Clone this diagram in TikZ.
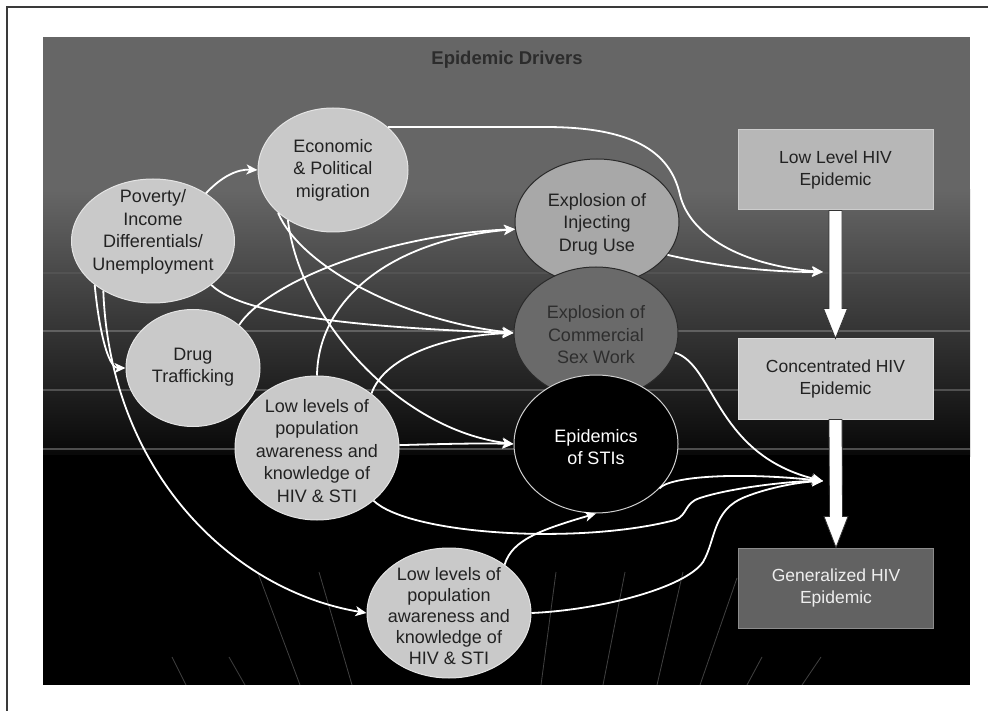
\documentclass[tikz,border=0pt]{standalone}
\usepackage{fontspec}
\setmainfont{Liberation Sans}
\usetikzlibrary{shapes.geometric, arrows.meta, calc}
\definecolor{bgtop}{HTML}{666666}
\definecolor{bgdark}{HTML}{080808}
\definecolor{nodegray}{HTML}{C9C9C9}
\definecolor{nodeedge}{HTML}{E4E4E4}
\definecolor{txtdark}{HTML}{222222}
\definecolor{iducol}{HTML}{A8A8A8}
\definecolor{cswcol}{HTML}{6A6A6A}
\definecolor{cswtext}{HTML}{2E2E2E}
\definecolor{darkedge}{HTML}{2A2A2A}
\definecolor{stiedge}{HTML}{D0D0D0}
\definecolor{lowcol}{HTML}{B7B7B7}
\definecolor{lowedge}{HTML}{CDCDCD}
\definecolor{conccol}{HTML}{C9C9C9}
\definecolor{concedge}{HTML}{DDDDDD}
\definecolor{gencol}{HTML}{626262}
\definecolor{genedge}{HTML}{8C8C8C}
\definecolor{gentext}{HTML}{EEEEEE}
\definecolor{titlec}{HTML}{2C2C2C}
\definecolor{framec}{HTML}{3A3A3A}
\begin{document}
\begin{tikzpicture}[x=1pt,y=-1pt,
  ell/.style={ellipse, inner sep=0pt},
  lite/.style={ell, fill=nodegray, draw=nodeedge, line width=1pt},
  txt/.style={font=\fontsize{18}{22.5}\selectfont, align=center, inner sep=0pt, text=txtdark},
  boxnode/.style={rectangle, inner sep=0pt, minimum width=195pt, minimum height=80pt, line width=1pt,
                  align=center, font=\fontsize{17.5}{21.5}\selectfont},
  conn/.style={draw=white, line width=1.8pt, -{Stealth[length=11pt,width=10pt,inset=3pt]}},
  bigarr/.style={fill=white, draw=black!80, line width=0.8pt, line join=miter},
  deco/.style={draw=white, line width=0.8pt, opacity=0.25},
  hline/.style={draw=white, line width=1.6pt, opacity=0.22},
]
\useasboundingbox (0,0) rectangle (988,711);
\fill[white] (0,0) rectangle (988,711);
% frame
\draw[framec, line width=2.2pt] (7,711) -- (7,7) -- (988,7);
% panel background
\fill[bgtop] (43,37) rectangle (970,191);
\shade[top color=bgtop, bottom color=bgdark] (43,190) rectangle (970,456);
\fill[black] (43,455) rectangle (970,685);
% faint horizontal lines
\draw[hline, opacity=0.06] (43,273) -- (970,273);
\draw[hline] (43,331) -- (970,331);
\draw[hline] (43,390) -- (970,390);
\draw[hline, opacity=0.28] (43,449) -- (970,449);
% faint diagonal lines
\foreach \a/\b/\c/\d in {172/657/186/685, 229/657/245/685, 258/573/300/685, 319/572/352/685,
  556/572/541/685, 625/572/603/685, 683/572/657/685, 737/578/700/685, 762/657/747/685, 821/657/802/685}
  \draw[deco] (\a,\b) -- (\c,\d);
% title
\node[font=\bfseries\fontsize{18.5}{21}\selectfont, text=titlec] (title) at (507,60) {Epidemic Drivers};
% left ellipses
\node[lite, minimum width=163pt, minimum height=124pt] (pov) at (153,241) {};
\node[lite, minimum width=150pt, minimum height=124pt] (eco) at (333,170) {};
\node[lite, minimum width=134pt, minimum height=117pt] (dt) at (193,368) {};
\node[lite, minimum width=164pt, minimum height=144pt] (ll1) at (317,448) {};
\node[lite, minimum width=164pt, minimum height=130pt] (ll2) at (449,613) {};
% middle ellipses
\node[ell, fill=iducol, draw=darkedge, line width=1pt, minimum width=164pt, minimum height=126pt] (idu) at (597,222) {};
\node[ell, fill=cswcol, draw=darkedge, line width=1pt, minimum width=164pt, minimum height=132pt] (csw) at (596,333) {};
\node[ell, fill=black, draw=stiedge, line width=1pt, minimum width=164pt, minimum height=138pt] (sti) at (596,444) {};
% boxes
\node[boxnode, fill=lowcol, draw=lowedge, text=txtdark] (low) at (835.5,170) {Low Level HIV\\Epidemic};
\node[boxnode, fill=conccol, draw=concedge, text=txtdark] (conc) at (835.5,379) {Concentrated HIV\\Epidemic};
\node[boxnode, fill=gencol, draw=genedge, text=gentext] (gen) at (836,588) {Generalized HIV\\Epidemic};
% big arrows
\draw[bigarr] ($(low.south)+(-6.5,0)$) -- ($(conc.north)+(-6.5,-30)$) -- ($(conc.north)+(-12,-30)$)
  -- (conc.north) -- ($(conc.north)+(12,-30)$) -- ($(conc.north)+(6.5,-30)$) -- ($(low.south)+(6.5,0)$) -- cycle;
\draw[bigarr] ($(conc.south)+(-6.5,0)$) -- ($(gen.north)+(-6.5,-31)$) -- ($(gen.north)+(-12,-31)$)
  -- (gen.north) -- ($(gen.north)+(12,-31)$) -- ($(gen.north)+(6.5,-31)$) -- ($(conc.south)+(6.5,0)$) -- cycle;
% convergence points
\coordinate (cLow) at (823,272);
\coordinate (cGen) at (823,481);
% connectors
\draw[conn] (pov.42) .. controls (222,176) and (238,169) .. (eco.west);
\draw[conn] (pov.217) .. controls (99,330) and (108,368) .. (dt.west);
\draw[conn] (pov.225) .. controls (110,470) and (230,590) .. (ll2.west);
\draw[conn] (pov.323) .. controls (245,318) and (380,328) .. (csw.west);
\draw[conn] (eco.38) -- (545,127) .. controls (630,127) and (670,150) .. (680,195)
  .. controls (690,235) and (740,265) .. (cLow);
\draw[conn] (idu.335) .. controls (720,267) and (770,272) .. (cLow);
\draw[conn] (eco.218) .. controls (300,265) and (400,320) .. (csw.west);
\draw[conn] (eco.228) .. controls (300,320) and (400,430) .. (sti.west);
\draw[conn] (dt.43) .. controls (265,285) and (380,235) .. (idu.185);
\draw[conn] (ll1.north) .. controls (318,300) and (390,240) .. (idu.185);
\draw[conn] (ll1.45) .. controls (385,355) and (450,335) .. (csw.west);
\draw[conn] (ll1.2) .. controls (440,444) and (480,443) .. (sti.west);
\draw[conn] (ll1.317) .. controls (410,535) and (580,545) .. (675,520)
  .. controls (688,515) and (684,503) .. (700,498) .. controls (730,488) and (790,481) .. (cGen);
\draw[conn] (csw.346) .. controls (715,365) and (715,455) .. (cGen);
\draw[conn] (sti.325) .. controls (670,476) and (740,472) .. (cGen);
\draw[conn] (ll2.41) .. controls (512,540) and (540,530) .. (sti.south);
\draw[conn] (ll2.east) .. controls (600,610) and (685,588) .. (703,562)
  .. controls (716,540) and (712,510) .. (745,497) .. controls (770,487) and (800,482) .. (cGen);
% ellipse texts
\node[txt] (povT) at ([yshift=9pt]pov.center) {Poverty/\\Income\\Differentials/\\Unemployment};
\node[txt] (ecoT) at (eco.center) {Economic\\\& Political\\migration};
\node[txt] (dtT) at ([yshift=1pt]dt.center) {Drug\\Trafficking};
\node[txt] (ll1T) at ([yshift=-3pt]ll1.center) {Low levels of\\population\\awareness and\\knowledge of\\HIV \& STI};
\node[txt, font=\fontsize{18}{21}\selectfont] (ll2T) at ([yshift=-3pt]ll2.center) {Low levels of\\population\\awareness and\\knowledge of\\HIV \& STI};
\node[txt] (iduT) at ([yshift=-2pt]idu.center) {Explosion of\\Injecting\\Drug Use};
\node[txt, text=cswtext] (cswT) at ([yshift=-2pt]csw.center) {Explosion of\\Commercial\\Sex Work};
\node[txt, text=white] (stiT) at ([yshift=-3pt]sti.center) {Epidemics\\of STIs};
\end{tikzpicture}
\end{document}
